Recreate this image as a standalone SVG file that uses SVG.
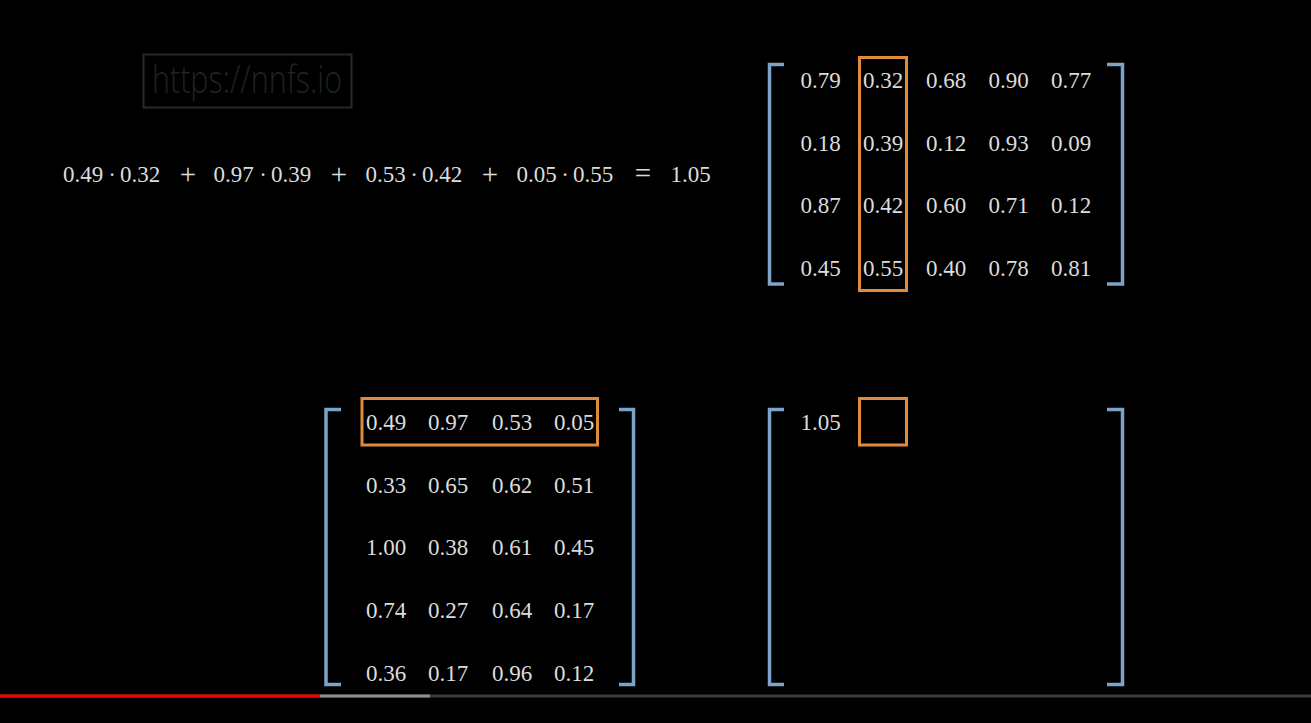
<svg xmlns="http://www.w3.org/2000/svg" width="1311" height="723" viewBox="0 0 1311 723">
<style>
.t{font-family:"Liberation Serif","DejaVu Serif",serif;font-size:23px;fill:#dcdcdc;text-anchor:middle}
.op{font-family:"Liberation Serif","DejaVu Serif",serif;font-size:29px;fill:#dcdcdc;text-anchor:middle}
.br{fill:none;stroke:#7ba4c8;stroke-width:3.5}
.hl{fill:none;stroke:#e08a3c;stroke-width:3}
</style>
<rect x="0" y="0" width="1311" height="723" fill="#000"/>
<g id="watermark">
<rect x="143.5" y="54.5" width="208" height="53" fill="none" stroke="#262a2a" stroke-width="2"/>
<text x="152" y="93" font-family="'Open Sans','Liberation Sans',sans-serif" font-weight="300" font-size="38" fill="#1f2323" textLength="190" lengthAdjust="spacingAndGlyphs">https://nnfs.io</text>
</g>
<g id="equation">
<text class="t" x="83" y="182">0.49</text><text class="t" x="112" y="182">·</text><text class="t" x="140" y="182">0.32</text>
<text class="op" x="188" y="184">+</text>
<text class="t" x="233.5" y="182">0.97</text><text class="t" x="263" y="182">·</text><text class="t" x="291" y="182">0.39</text>
<text class="op" x="339" y="184">+</text>
<text class="t" x="385.5" y="182">0.53</text><text class="t" x="414" y="182">·</text><text class="t" x="442" y="182">0.42</text>
<text class="op" x="490" y="184">+</text>
<text class="t" x="536.5" y="182">0.05</text><text class="t" x="565" y="182">·</text><text class="t" x="593" y="182">0.55</text>
<text class="op" x="643" y="183">=</text>
<text class="t" x="690.5" y="182">1.05</text>
</g>
<g id="weights">
<path class="br" d="M784,64.5 H769.5 V284 H784"/>
<path class="br" d="M1107,64.5 H1122.5 V284 H1107"/>
<rect class="hl" x="859.5" y="57.5" width="47" height="233"/>
<text class="t" x="820.5" y="88">0.79</text><text class="t" x="883" y="88">0.32</text><text class="t" x="946" y="88">0.68</text><text class="t" x="1008.5" y="88">0.90</text><text class="t" x="1071" y="88">0.77</text>
<text class="t" x="820.5" y="151">0.18</text><text class="t" x="883" y="151">0.39</text><text class="t" x="946" y="151">0.12</text><text class="t" x="1008.5" y="151">0.93</text><text class="t" x="1071" y="151">0.09</text>
<text class="t" x="820.5" y="213">0.87</text><text class="t" x="883" y="213">0.42</text><text class="t" x="946" y="213">0.60</text><text class="t" x="1008.5" y="213">0.71</text><text class="t" x="1071" y="213">0.12</text>
<text class="t" x="820.5" y="276">0.45</text><text class="t" x="883" y="276">0.55</text><text class="t" x="946" y="276">0.40</text><text class="t" x="1008.5" y="276">0.78</text><text class="t" x="1071" y="276">0.81</text>
</g>
<g id="inputs">
<path class="br" d="M341,409.5 H326 V684.5 H341"/>
<path class="br" d="M619,409.5 H633.5 V684.5 H619"/>
<rect class="hl" x="362" y="398.5" width="235.5" height="46.5"/>
<text class="t" x="386" y="430">0.49</text><text class="t" x="448" y="430">0.97</text><text class="t" x="512" y="430">0.53</text><text class="t" x="574" y="430">0.05</text>
<text class="t" x="386" y="493">0.33</text><text class="t" x="448" y="493">0.65</text><text class="t" x="512" y="493">0.62</text><text class="t" x="574" y="493">0.51</text>
<text class="t" x="386" y="555">1.00</text><text class="t" x="448" y="555">0.38</text><text class="t" x="512" y="555">0.61</text><text class="t" x="574" y="555">0.45</text>
<text class="t" x="386" y="618">0.74</text><text class="t" x="448" y="618">0.27</text><text class="t" x="512" y="618">0.64</text><text class="t" x="574" y="618">0.17</text>
<text class="t" x="386" y="681">0.36</text><text class="t" x="448" y="681">0.17</text><text class="t" x="512" y="681">0.96</text><text class="t" x="574" y="681">0.12</text>
</g>
<g id="output">
<path class="br" d="M784,409.5 H769.5 V684.5 H784"/>
<path class="br" d="M1107,409.5 H1122.5 V684.5 H1107"/>
<rect class="hl" x="859.5" y="398.5" width="47" height="46.5"/>
<text class="t" x="820.5" y="430">1.05</text>
</g>
<g id="progress">
<rect x="0" y="694.5" width="1311" height="3" fill="#3a3a3a"/>
<rect x="320" y="694.5" width="110" height="3" fill="#8f8f8f"/>
<rect x="0" y="694.5" width="320" height="3" fill="#f00"/>
</g>
</svg>
